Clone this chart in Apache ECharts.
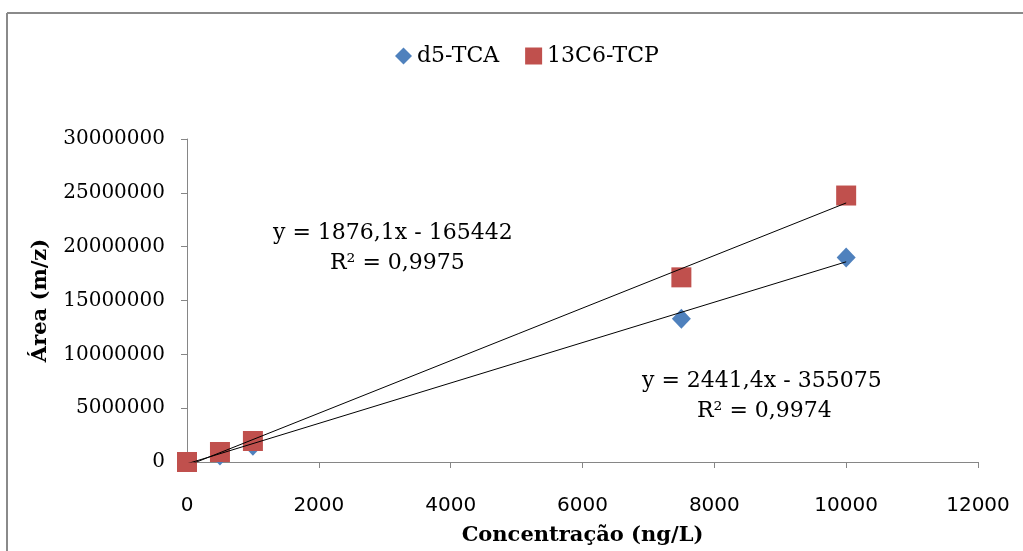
<!DOCTYPE html>
<html lang="pt" style="height: 100%">
<head>
  <meta charset="utf-8">
  <script src="https://cdn.jsdelivr.net/npm/echarts@6/dist/echarts.min.js"></script>
</head>
<body style="height: 100%; margin: 0; overflow: hidden">
  <div id="container" style="width: 100%; height: 100%"></div>
  <script type="text/javascript">
    // concentrations (ng/L)
    var concentrations = [0, 500, 1000, 7500, 10000];
    // areas
    var tcaArea = [0, 600000, 1500000, 13300000, 19000000];
    var tcpArea = [0, 930000, 1950000, 17150000, 24750000];
    // trendline equations shown on the chart: [slope, intercept]
    var tcaFit = [1876.1, -165442];
    var tcpFit = [2441.4, -355075];
    var fitRange = [0, 10000];
    var xTicks = [0, 2000, 4000, 6000, 8000, 10000, 12000];
    var yTicks = [0, 5000000, 10000000, 15000000, 20000000, 25000000, 30000000];

    var serif = 'DejaVu Serif';
    var sans = 'DejaVu Sans';
    var eqFont = '22px "DejaVu Serif"';

    function points(xs, ys) {
      return xs.map(function (x, i) { return [x, ys[i]]; });
    }
    function fitLine(fit) {
      return fitRange.map(function (x) { return [x, fit[0] * x + fit[1]]; });
    }

    var chart = echarts.init(document.getElementById('container'), null, { renderer: 'canvas' });

    var option = {
      animation: false,
      backgroundColor: '#fff',
      grid: { left: 187, right: 45, top: 139, bottom: 89, outerBoundsMode: 'none', containLabel: false },
      legend: {
        top: 40,
        left: 390,
        itemWidth: 17,
        itemHeight: 17,
        itemGap: 26,
        data: ['d5-TCA', '13C6-TCP'],
        textStyle: { fontFamily: serif, fontSize: 22, color: '#000' }
      },
      xAxis: {
        type: 'value',
        min: xTicks[0],
        max: xTicks[xTicks.length - 1],
        interval: 2000,
        name: 'Concentração (ng/L)',
        nameLocation: 'middle',
        nameGap: 63,
        nameTextStyle: { fontFamily: serif, fontWeight: 'bold', fontSize: 21, color: '#000' },
        axisLine: { lineStyle: { color: '#868686' } },
        axisTick: { show: true, length: 6, lineStyle: { color: '#868686' } },
        axisLabel: {
          margin: 34, fontFamily: sans, fontSize: 20, color: '#000',
          formatter: function (v) { return String(v); }
        },
        splitLine: { show: false }
      },
      yAxis: {
        type: 'value',
        min: yTicks[0],
        max: yTicks[yTicks.length - 1],
        interval: 5000000,
        name: 'Área (m/z)',
        nameLocation: 'middle',
        nameGap: 136,
        nameTextStyle: { fontFamily: serif, fontWeight: 'bold', fontSize: 21, color: '#000' },
        axisLine: { show: true, lineStyle: { color: '#868686' } },
        axisTick: { show: true, length: 6, lineStyle: { color: '#868686' } },
        axisLabel: {
          margin: 22, fontFamily: serif, fontSize: 20, color: '#000',
          formatter: function (v) { return String(v); }
        },
        splitLine: { show: false }
      },
      graphic: [
        {
          type: 'line', z: -10, silent: true,
          shape: { x1: 7, y1: 13, x2: 1200, y2: 13 },
          style: { stroke: '#8a8a8a', lineWidth: 2 }
        },
        {
          type: 'line', z: -10, silent: true,
          shape: { x1: 7, y1: 13, x2: 7, y2: 600 },
          style: { stroke: '#8a8a8a', lineWidth: 2 }
        },
        {
          type: 'text', left: 273, top: 222, z: 10,
          style: { text: 'y = 1876,1x - 165442', font: eqFont, fill: '#000' }
        },
        {
          type: 'text', left: 330, top: 252, z: 10,
          style: { text: 'R² = 0,9975', font: eqFont, fill: '#000' }
        },
        {
          type: 'text', left: 642, top: 370, z: 10,
          style: { text: 'y = 2441,4x - 355075', font: eqFont, fill: '#000' }
        },
        {
          type: 'text', left: 697, top: 400, z: 10,
          style: { text: 'R² = 0,9974', font: eqFont, fill: '#000' }
        }
      ],
      series: [
        {
          name: 'd5-TCA',
          type: 'scatter',
          symbol: 'diamond',
          symbolSize: [19, 20],
          itemStyle: { color: '#4F81BD', opacity: 1 },
          z: 2,
          data: points(concentrations, tcaArea)
        },
        {
          name: '13C6-TCP',
          type: 'scatter',
          symbol: 'rect',
          symbolSize: 20,
          itemStyle: { color: '#C0504D', opacity: 1 },
          z: 3,
          data: points(concentrations, tcpArea)
        },
        {
          name: 'fit TCA',
          type: 'line',
          symbol: 'none',
          clip: true,
          z: 5,
          lineStyle: { color: '#000', width: 1 },
          data: fitLine(tcaFit)
        },
        {
          name: 'fit TCP',
          type: 'line',
          symbol: 'none',
          clip: true,
          z: 5,
          lineStyle: { color: '#000', width: 1 },
          data: fitLine(tcpFit)
        }
      ]
    };

    chart.setOption(option);
    window.addEventListener('resize', chart.resize);
  </script>
</body>
</html>
